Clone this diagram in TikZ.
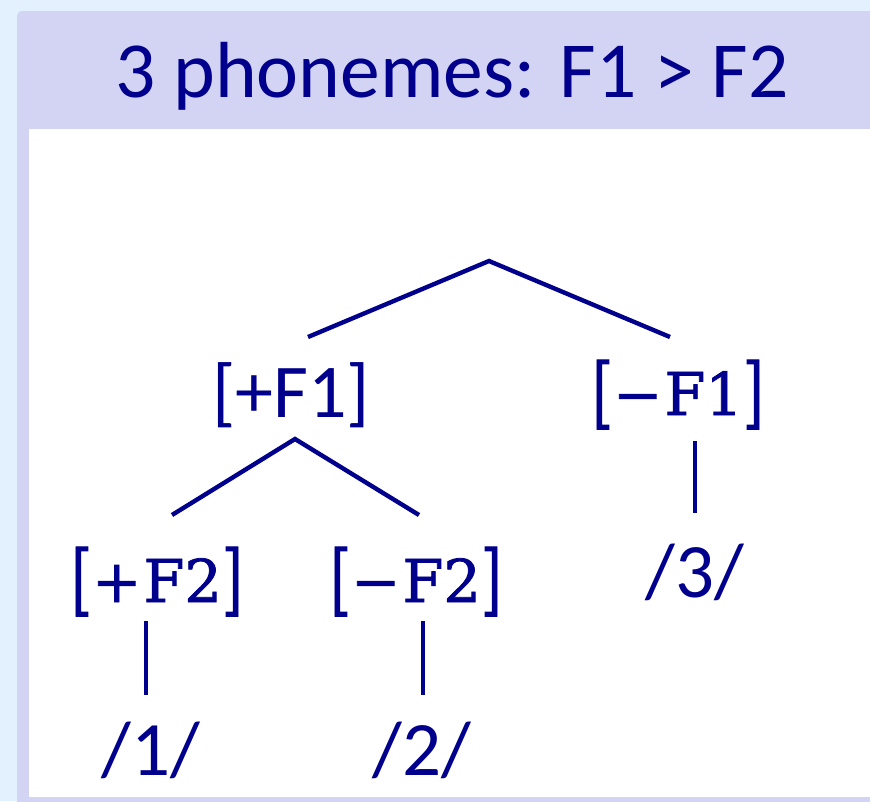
\documentclass[tikz,border=0pt]{standalone}
\usepackage{fontspec}
\setmainfont{Carlito}
\newfontfamily\serifnode[FakeBold=1.3]{DejaVu Serif}
\usepackage{graphicx}
\definecolor{bgblue}{RGB}{227,240,253}
\definecolor{lav}{RGB}{211,211,243}
\definecolor{navy}{RGB}{0,0,140}
\newcommand{\sbr}[1]{\raisebox{-4pt}{\scalebox{0.9}[1.32]{#1}}}
\tikzset{
  title/.style={font=\fontsize{79.5}{80}\selectfont, text=navy, anchor=base, inner sep=0pt},
  sanslabel/.style={font=\fontsize{76}{76}\selectfont, text=navy, anchor=base, inner sep=0pt},
  seriflabel/.style={font=\serifnode\fontsize{59}{59}\selectfont, text=navy, anchor=base, inner sep=0pt},
  leaf/.style={font=\fontsize{77}{77}\selectfont, text=navy, anchor=base, inner sep=0pt},
  branch/.style={draw=navy, line width=4.4pt}
}
\begin{document}
\begin{tikzpicture}[x=1pt,y=-1pt]
\useasboundingbox (0,0) rectangle (870,801);
\clip (0,0) rectangle (870,801);
\fill[bgblue] (0,0) rectangle (870,801);
\fill[lav, rounded corners=5pt] (17,11) rectangle (890,820);
\fill[white] (29,129) rectangle (890,797);
\node[title] (ttl) at (452,97) {3 phonemes: F1 > F2};
% labels
\node[sanslabel] (pf1) at (291,417) {[+F1]};
\node[seriflabel] (mf1) at (678,415) {\sbr{[}−\kern2pt F1\sbr{]}};
\node[seriflabel] (pf2) at (157,602) {\sbr{[}+\kern2pt F2\sbr{]}};
\node[seriflabel] (mf2) at (416,602) {\sbr{[}−\kern2pt F2\sbr{]}};
\node[leaf] (p3) at (695,597) {/3/};
\node[leaf] (p1) at (151,775) {/1/};
\node[leaf] (p2) at (422,775) {/2/};
% connector points
\coordinate (root) at (489,261);
\coordinate (rl) at (308,337);
\coordinate (rr) at (670,337);
\coordinate (a1) at (295,439);
\coordinate (a1l) at (172,515);
\coordinate (a1r) at (419,515);
\coordinate (b1) at (695,441);
\coordinate (b1e) at (695,513);
\coordinate (c1) at (146,621);
\coordinate (c1e) at (146,695);
\coordinate (d1) at (423,621);
\coordinate (d1e) at (423,695);
\draw[branch] (rl) -- (root) -- (rr);
\draw[branch] (a1l) -- (a1) -- (a1r);
\draw[branch] (b1) -- (b1e);
\draw[branch] (c1) -- (c1e);
\draw[branch] (d1) -- (d1e);
\end{tikzpicture}
\end{document}
